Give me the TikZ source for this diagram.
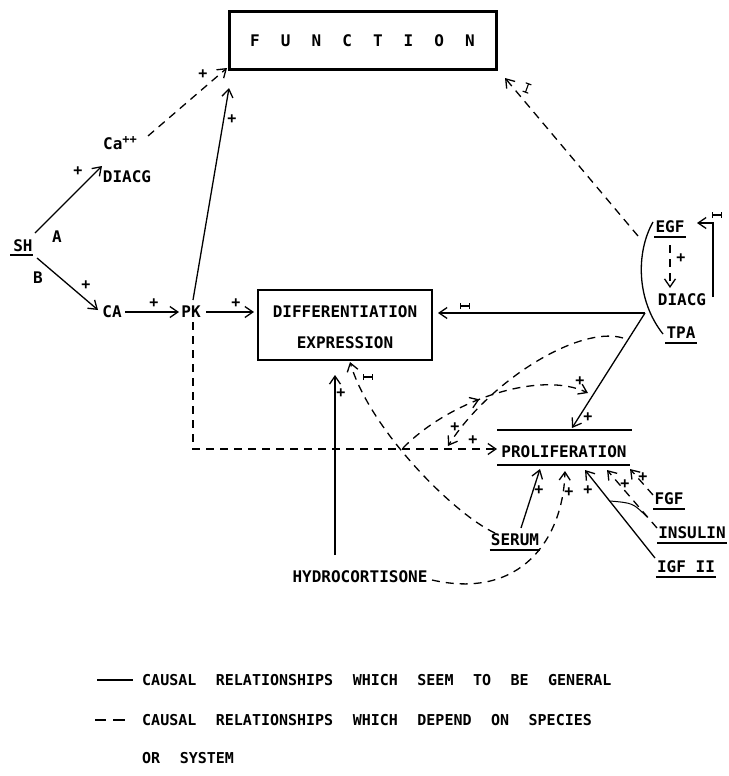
\documentclass[tikz,border=0pt]{standalone}
\usepackage{fontspec}
\newfontfamily\mono{DejaVu Sans Mono}
\usetikzlibrary{arrows.meta,decorations.markings}
\newcommand\fnl[1]{\makebox[30.7pt]{#1}}
\newcommand\lgap{\hspace{19.5pt}}
\begin{document}
\begin{tikzpicture}[x=1pt,y=-1pt,
  every node/.style={font=\mono\bfseries\fontsize{16}{18}\selectfont, inner sep=1pt},
  txt/.style={text height=11.7pt, text depth=0pt},
  lgd/.style={font=\mono\bfseries\fontsize{15}{18}\selectfont, anchor=west, text height=11pt, text depth=0pt},
  ln/.style={line width=1.3pt},
  tip/.style={-{Straight Barb[length=8pt,width=11pt]}},
  arr/.style={ln,tip},
  dsh/.style={dash pattern=on 8pt off 6pt},
  darr/.style={arr,dsh},
  plus/.style={font=\mono\bfseries\fontsize{15}{15}\selectfont, inner sep=0pt},
  inhib/.pic={\draw[line width=1.1pt,{Bar[width=6pt]}-{Bar[width=6pt]}] (-5,0)--(5,0);},
  uline/.style={line width=1.2pt},
]
\useasboundingbox (0,0) rectangle (728,776);

% ---------- boxes ----------
\node[draw, line width=3pt, minimum width=267pt, minimum height=58pt, inner sep=0pt] (fn) at (362.5,41)
  {\fnl{F}\fnl{U}\fnl{N}\fnl{C}\fnl{T}\fnl{I}\fnl{O}\fnl{N}};
\node[draw, ln, minimum width=174pt, minimum height=70pt, inner sep=0pt] (diff) at (345,325) {};
\node[txt] (dt1) at (345,312) {DIFFERENTIATION};
\node[txt] (dt2) at (345,343) {EXPRESSION};

% ---------- text nodes ----------
\node[txt, anchor=west] (ca) at (102,144) {Ca\raisebox{6pt}{\fontsize{12}{12}\selectfont++}};
\node[txt] (dg1) at (127,177) {DIACG};
\node[txt] (sh) at (23,246) {SH};
\node[txt] (la) at (57,237) {A};
\node[txt] (lb) at (38,278) {B};
\node[txt] (cax) at (112,312) {CA};
\node[txt] (pk) at (191,312) {PK};
\node[txt] (egf) at (670,227) {EGF};
\node[txt] (dg2) at (682,300) {DIACG};
\node[txt] (tpa) at (681,333) {TPA};
\node[txt] (prol) at (564,452) {PROLIFERATION};
\node[txt] (serum) at (515,540) {SERUM};
\node[txt] (fgf) at (669,499) {FGF};
\node[txt] (insulin) at (692,533) {INSULIN};
\node[txt] (igf) at (686,567) {IGF II};
\node[txt] (hydro) at (360,577) {HYDROCORTISONE};

% underlines
\draw[uline] (10,255) -- (33,255);
\foreach \n in {egf,tpa,serum,fgf,insulin,igf}
  \draw[uline] ([yshift=-3pt]\n.south west) -- ([yshift=-3pt]\n.south east);
\draw[ln] ([xshift=-3pt,yshift=15pt]prol.north west) -- ([xshift=4pt,yshift=15pt]prol.north east);
\draw[ln] ([xshift=-3pt,yshift=-6pt]prol.south west) -- ([xshift=2pt,yshift=-6pt]prol.south east);

% ---------- coordinates ----------
\coordinate (shA) at (35,233);   \coordinate (dgA) at (102,166);
\coordinate (shB) at (37,258);   \coordinate (caB) at (98,310);
\coordinate (caR) at (125,312);  \coordinate (pkL) at (179,312);
\coordinate (pkR) at (206,312);  \coordinate (dfL) at (254,312);
\coordinate (pkT) at (193,300);  \coordinate (fnA) at (229,88);
\coordinate (caT) at (148,136);  \coordinate (fnB) at (227,68);
\coordinate (pkD) at (193,322);  \coordinate (pkC) at (193,449);  \coordinate (prL) at (497,449);
\coordinate (egT) at (638,236);  \coordinate (fnC) at (505,78);
\coordinate (vtx) at (645,313);  \coordinate (dfR) at (438,313);  \coordinate (prT) at (572,428);
\coordinate (arS) at (623,338);  \coordinate (arE) at (448,446);
\coordinate (mdS) at (403,448);  \coordinate (mdE) at (588,393);
\coordinate (seS) at (495,533);  \coordinate (dfB) at (350,362);
\coordinate (hyT) at (335,555);  \coordinate (dfH) at (335,375);
\coordinate (hyR) at (432,580);  \coordinate (prH) at (565,471);
\coordinate (seT) at (521,528);  \coordinate (prS) at (540,469);
\coordinate (igT) at (655,558);  \coordinate (prI) at (585,470);
\coordinate (inT) at (657,528);  \coordinate (prN) at (607,470);
\coordinate (fgT) at (653,495);  \coordinate (prF) at (630,469);
\coordinate (acA) at (610,501);  \coordinate (acB) at (647,517);
\coordinate (egB) at (670,245);  \coordinate (dgT) at (670,288);
\coordinate (fbA) at (713,297);  \coordinate (fbB) at (713,223);  \coordinate (fbC) at (697,223);
\coordinate (brT) at (653,222);  \coordinate (brB) at (663,334);
\coordinate (lgA) at (97,680);   \coordinate (lgB) at (133,680);
\coordinate (lgC) at (95,720);   \coordinate (lgD) at (106,720);
\coordinate (lgE) at (113,720);  \coordinate (lgF) at (125,720);

% ---------- connectors ----------
\draw[arr] (shA) -- (dgA);
\node[plus] (p1) at (78,171) {+};
\draw[arr] (shB) -- (caB);
\node[plus] (p2) at (86,285) {+};
\draw[arr] (caR) -- (pkL);
\node[plus] (p3) at (154,303) {+};
\draw[arr] (pkR) -- (dfL);
\node[plus] (p4) at (236,303) {+};
\draw[arr] (pkT) -- (fnA);
\node[plus] (p5) at (232,119) {+};
\draw[darr] (caT) -- (fnB);
\node[plus] (p6) at (203,74) {+};
\draw[darr] (pkD) -- (pkC) -- (prL);
\node[plus] (p7) at (473,440) {+};
\draw[darr] (egT) -- (fnC);
\pic[rotate=70] at (527,88) {inhib};
\draw[arr] (vtx) -- (dfR);
\pic at (465,306) {inhib};
\draw[arr] (vtx) -- (prT);
\node[plus] (p8) at (588,417) {+};
\draw[darr] (arS) .. controls (580,325) and (490,380) .. (arE);
\node[plus] (p9) at (455,427) {+};
\draw[darr, postaction={decorate}, decoration={markings, mark=at position 0.45 with {\arrow[line width=1.3pt]{Straight Barb[length=8pt,width=11pt]}}}]
  (mdS) .. controls (450,400) and (540,370) .. (mdE);
\node[plus] (p10) at (580,381) {+};
\draw[darr] (seS) .. controls (455,515) and (370,430) .. (dfB);
\pic at (368,377) {inhib};
\draw[arr] (hyT) -- (dfH);
\node[plus] (p11) at (341,393) {+};
\draw[darr] (hyR) .. controls (520,600) and (563,540) .. (prH);
\node[plus] (p12) at (569,492) {+};
\draw[arr] (seT) -- (prS);
\node[plus] (p13) at (539,490) {+};
\draw[arr] (igT) -- (prI);
\node[plus] (p14) at (588,490) {+};
\draw[darr] (inT) -- (prN);
\node[plus] (p15) at (625,484) {+};
\draw[darr] (fgT) -- (prF);
\node[plus] (p16) at (643,477) {+};
\draw[line width=1pt] (acA) .. controls (633,503) .. (acB);
\draw[darr] (egB) -- (dgT);
\node[plus] (p17) at (681,258) {+};
\draw[arr] (fbA) -- (fbB) -- (fbC);
\pic at (717,215) {inhib};
\draw[ln] (brT) .. controls (636,252) and (636,300) .. (brB);

% ---------- legend ----------
\draw[ln] (lgA) -- (lgB);
\draw[ln] (lgC) -- (lgD);
\draw[ln] (lgE) -- (lgF);
\node[lgd] (lg1) at (141,680) {CAUSAL\lgap RELATIONSHIPS\lgap WHICH\lgap SEEM\lgap TO\lgap BE\lgap GENERAL};
\node[lgd] (lg2) at (141,720) {CAUSAL\lgap RELATIONSHIPS\lgap WHICH\lgap DEPEND\lgap ON\lgap SPECIES};
\node[lgd] (lg3) at (141,758) {OR\lgap SYSTEM};
\end{tikzpicture}
\end{document}
